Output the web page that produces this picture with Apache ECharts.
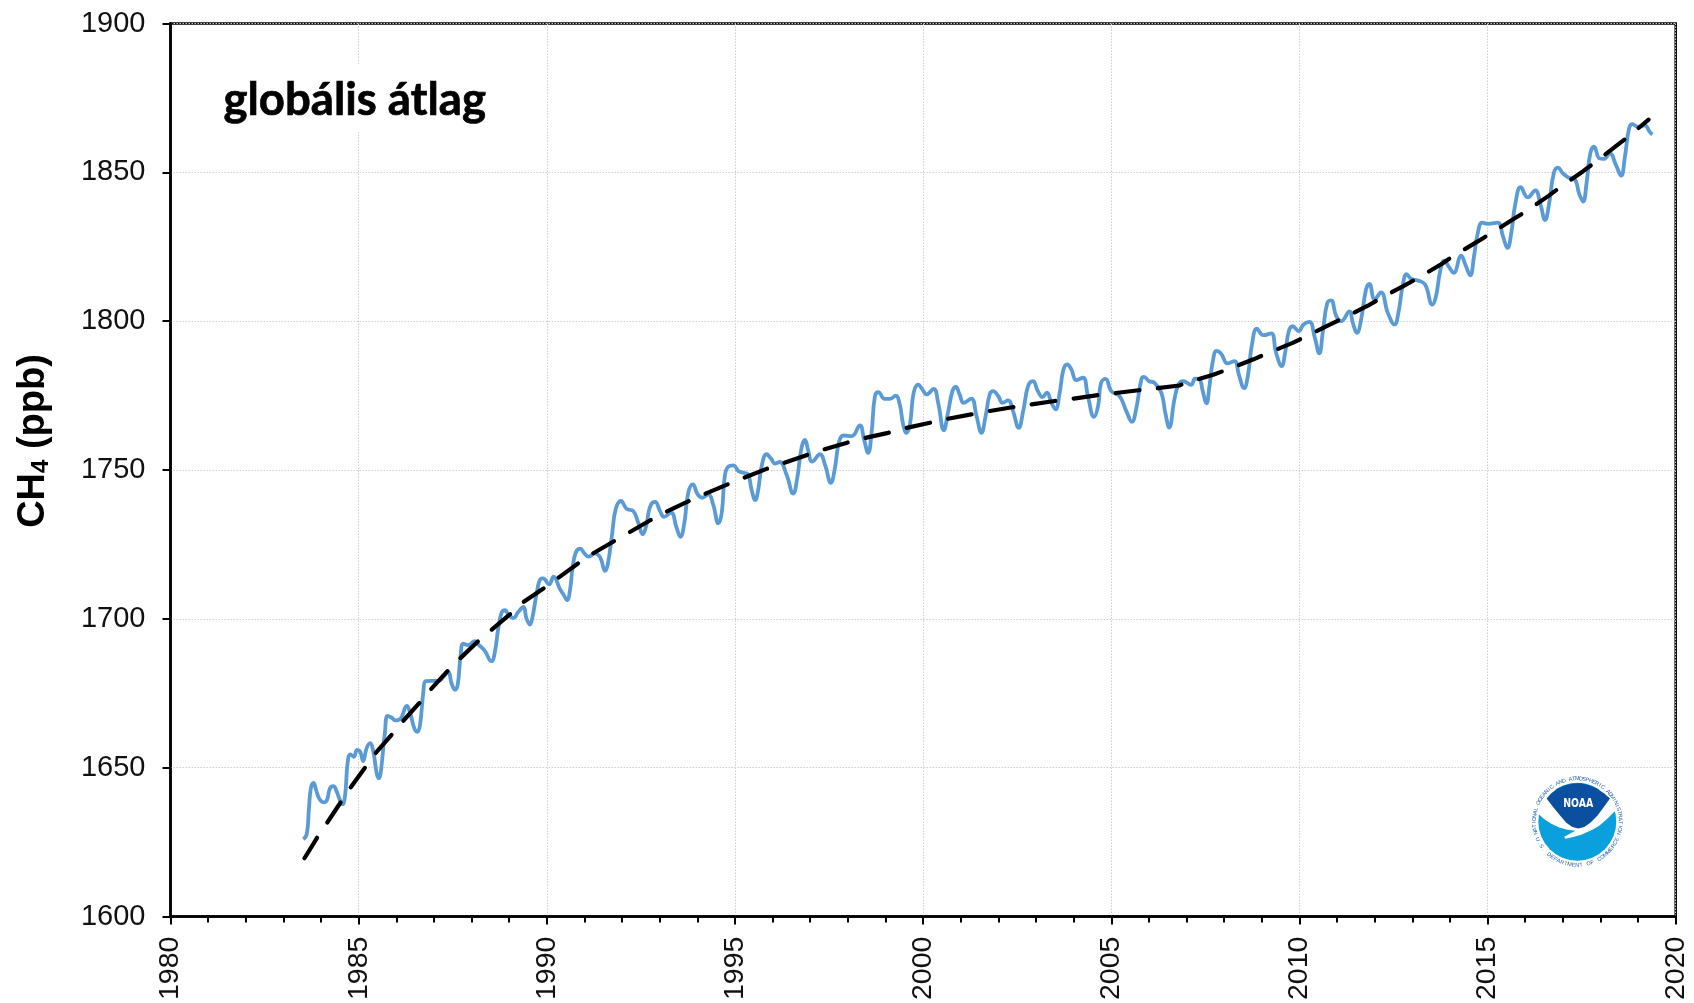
<!DOCTYPE html>
<html>
<head>
<meta charset="utf-8">
<style>html,body{margin:0;padding:0;background:#fff}#c{width:1694px;height:1003px}</style>
<script src="https://cdn.jsdelivr.net/npm/echarts@6/dist/echarts.min.js"></script>
</head>
<body>
<div id="c"></div>
<script>
const titleText = 'globális átlag';
const ringTop = 'NATIONAL OCEANIC AND ATMOSPHERIC ADMINISTRATION';
const ringBottom = 'U.S. DEPARTMENT OF COMMERCE';
const yTicks = [1600, 1900, 50];
const xTicks = [1980, 2020, 5];

// Globális havi CH4 (ppb): [year, ppb]
const ch4Monthly = [
[1983.53,1626.0],[1983.62,1627.6],[1983.68,1636.4],[1983.73,1643.1],[1983.80,1644.9],[1983.87,1642.5],[1983.95,1639.7],[1984.06,1638.4],[1984.15,1638.9],[1984.24,1643.1],[1984.33,1643.8],[1984.42,1641.9],[1984.50,1639.2],[1984.57,1637.7],[1984.64,1640.8],[1984.71,1652.0],[1984.78,1654.5],[1984.87,1653.7],[1984.96,1656.0],[1985.04,1655.4],[1985.12,1652.2],[1985.21,1656.5],[1985.30,1658.3],[1985.39,1655.4],[1985.48,1648.1],[1985.54,1646.4],[1985.59,1648.7],[1985.70,1662.1],[1985.77,1667.4],[1985.88,1666.8],[1985.98,1665.9],[1986.12,1666.6],[1986.28,1670.8],[1986.36,1668.8],[1986.48,1663.2],[1986.56,1662.1],[1986.63,1664.3],[1986.72,1675.5],[1986.78,1679.1],[1986.94,1679.2],[1987.12,1679.2],[1987.25,1680.5],[1987.38,1682.2],[1987.47,1678.3],[1987.56,1676.2],[1987.63,1677.7],[1987.71,1687.8],[1987.78,1691.7],[1987.91,1691.2],[1988.09,1692.5],[1988.20,1691.2],[1988.34,1689.5],[1988.53,1685.8],[1988.62,1688.9],[1988.71,1696.8],[1988.80,1702.1],[1988.89,1702.9],[1988.99,1701.2],[1989.11,1700.3],[1989.24,1702.3],[1989.38,1704.0],[1989.46,1700.1],[1989.55,1698.1],[1989.62,1700.7],[1989.73,1708.5],
[1989.83,1713.4],[1989.90,1713.6],[1990.06,1711.6],[1990.18,1714.2],[1990.35,1710.0],[1990.44,1708.3],[1990.54,1706.3],[1990.62,1710.0],[1990.68,1716.7],[1990.77,1722.3],[1990.89,1723.6],[1991.00,1722.0],[1991.11,1720.9],[1991.28,1722.0],[1991.42,1720.6],[1991.55,1716.1],[1991.62,1718.3],[1991.73,1727.9],[1991.83,1736.8],[1991.97,1739.6],[1992.12,1737.0],[1992.30,1736.2],[1992.43,1732.3],[1992.55,1728.4],[1992.64,1731.2],[1992.75,1737.9],[1992.88,1739.3],[1993.01,1736.2],[1993.12,1734.3],[1993.30,1735.7],[1993.45,1730.6],[1993.55,1727.6],[1993.65,1731.8],[1993.76,1742.4],[1993.88,1745.2],[1994.01,1741.8],[1994.13,1740.7],[1994.29,1741.8],[1994.42,1738.5],[1994.56,1732.1],[1994.65,1735.7],[1994.73,1748.0],[1994.82,1751.1],[1994.96,1751.6],[1995.09,1749.7],[1995.22,1749.1],[1995.35,1748.5],[1995.44,1743.5],[1995.54,1739.9],[1995.62,1743.5],[1995.71,1751.3],[1995.84,1755.3],[1995.97,1753.6],[1996.06,1752.2],[1996.19,1752.7],
[1996.37,1748.5],[1996.55,1742.1],[1996.65,1746.9],[1996.77,1757.5],[1996.86,1760.1],[1996.95,1756.4],[1997.05,1752.8],[1997.26,1755.3],[1997.39,1751.9],[1997.55,1745.7],[1997.65,1750.2],[1997.77,1759.7],[1997.89,1761.6],[1998.10,1761.4],[1998.32,1765.0],[1998.43,1760.3],[1998.54,1755.8],[1998.63,1762.5],[1998.72,1774.8],[1998.81,1776.2],[1998.98,1773.9],[1999.12,1773.9],[1999.27,1775.0],[1999.38,1772.0],[1999.47,1765.3],[1999.56,1762.5],[1999.65,1765.3],[1999.75,1776.0],[1999.87,1778.7],[1999.98,1777.1],[2000.09,1775.4],[2000.28,1777.3],[2000.40,1772.6],[2000.55,1763.4],[2000.66,1769.2],[2000.78,1776.5],[2000.87,1777.9],[2000.97,1775.4],[2001.08,1772.6],[2001.28,1774.0],[2001.42,1768.1],[2001.55,1762.5],[2001.66,1768.1],[2001.77,1775.4],[2001.86,1776.5],[2002.00,1774.8],[2002.11,1772.6],[2002.26,1773.4],[2002.39,1769.8],[2002.54,1764.2],[2002.66,1769.8],[2002.79,1778.2],[2002.92,1779.9],[2003.05,1776.5],[2003.17,1774.5],[2003.29,1776.0],[2003.41,1772.6],[2003.52,1770.4],[2003.63,1776.0],[2003.73,1783.8],[2003.83,1785.5],[2003.94,1783.8],[2004.07,1780.2],[2004.25,1781.0],[2004.38,1774.8],[2004.54,1767.9],[2004.65,1771.5],[2004.73,1779.3],[2004.85,1780.6],[2005.00,1776.5],[2005.22,1774.8],[2005.40,1769.8],[2005.55,1766.2],[2005.66,1770.4],[2005.80,1780.4],[2005.87,1781.3],[2006.00,1779.9],[2006.15,1779.3],[2006.33,1776.0],
[2006.44,1769.0],[2006.54,1764.3],[2006.68,1773.8],[2006.79,1778.8],[2006.91,1779.9],[2007.12,1778.6],[2007.23,1780.7],[2007.34,1780.5],[2007.43,1776.6],[2007.53,1772.4],[2007.61,1778.2],[2007.70,1786.6],[2007.80,1790.0],[2007.92,1789.1],[2008.09,1785.8],[2008.27,1786.6],[2008.40,1781.6],[2008.53,1777.5],[2008.63,1781.6],[2008.74,1792.2],[2008.87,1797.5],[2009.04,1795.3],[2009.25,1795.9],[2009.38,1789.4],[2009.53,1784.9],[2009.62,1789.4],[2009.72,1796.7],[2009.82,1798.3],[2009.98,1796.7],[2010.11,1798.9],[2010.27,1799.8],[2010.40,1795.0],[2010.53,1789.2],[2010.62,1796.1],[2010.74,1806.1],[2010.84,1807.0],[2010.98,1801.7],[2011.11,1800.0],[2011.33,1803.3],[2011.42,1799.4],[2011.53,1796.1],[2011.64,1800.6],[2011.77,1810.6],[2011.86,1812.5],[2012.00,1807.3],[2012.17,1809.7],[2012.35,1802.8],[2012.53,1798.9],[2012.63,1802.8],[2012.75,1812.3],[2012.85,1815.8],[2012.97,1814.2],[2013.15,1813.7],[2013.34,1812.3],[2013.53,1805.6],[2013.63,1808.4],[2013.74,1816.7],[2013.85,1820.3],[2013.99,1817.9],[2014.10,1816.2],[2014.30,1822.0],[2014.41,1819.0],[2014.54,1815.4],[2014.64,1821.8],[2014.74,1829.6],[2014.86,1833.1],[2015.01,1832.7],[2015.27,1833.1],[2015.41,1828.5],[2015.53,1824.6],[2015.63,1829.6],[2015.74,1839.6],[2015.88,1845.0],[2016.07,1841.6],[2016.27,1843.9],[2016.40,1839.6],[2016.53,1834.0],[2016.63,1839.0],[2016.76,1849.7],[2016.87,1851.6],[2017.00,1849.7],[2017.14,1848.3],[2017.33,1847.4],[2017.43,1843.0],[2017.54,1840.2],[2017.63,1846.3],[2017.73,1856.4],[2017.83,1858.6],[2017.97,1854.7],[2018.09,1854.5],[2018.25,1856.4],[2018.41,1852.5],[2018.55,1848.9],[2018.65,1855.2],[2018.76,1864.7],[2018.85,1866.2],[2019.00,1865.3],[2019.18,1865.8],[2019.31,1863.6],[2019.38,1862.7]
];

// Trend (dashed): [year, ppb]
const ch4Trend = [
[1983.56,1619.6],[1983.93,1627.2],[1984.15,1631.3],[1984.55,1638.9],[1984.77,1643.1],[1985.21,1650.7],[1985.43,1654.6],[1985.92,1661.7],[1986.16,1665.4],[1986.66,1672.4],[1986.90,1676.1],[1987.40,1683.0],[1987.67,1686.4],[1988.20,1692.8],[1988.50,1696.0],[1989.07,1702.1],[1989.35,1705.4],[1989.91,1710.2],[1990.25,1713.3],[1990.84,1718.7],[1991.15,1721.4],[1991.80,1726.2],[1992.14,1728.7],[1992.79,1733.4],[1993.12,1735.7],[1993.78,1739.6],[1994.13,1741.6],[1994.81,1745.2],[1995.18,1747.1],[1995.84,1750.4],[1996.19,1751.9],[1996.90,1755.0],[1997.30,1756.7],[1997.98,1759.2],[1998.36,1760.5],[1999.07,1762.5],[1999.47,1763.9],[2000.18,1765.9],[2000.56,1767.0],[2001.28,1768.7],[2001.66,1769.6],[2002.37,1771.1],[2002.74,1771.8],[2003.50,1773.2],[2003.88,1773.8],[2004.60,1775.1],[2005.00,1775.7],[2005.73,1776.8],[2006.11,1777.3],[2006.81,1778.4],[2007.00,1779.4],[2007.71,1782.0],[2008.09,1783.8],[2008.78,1787.2],[2009.13,1789.1],[2009.82,1792.7],[2010.16,1794.8],[2010.82,1798.9],[2011.17,1801.1],[2011.82,1805.2],[2012.17,1807.8],[2012.81,1812.1],[2013.15,1814.5],[2013.79,1819.3],[2014.10,1822.0],[2014.74,1826.8],[2015.05,1829.2],[2015.69,1834.3],[2016.01,1836.8],[2016.62,1842.1],[2016.93,1845.0],[2017.54,1850.4],[2017.85,1853.3],[2018.42,1858.9],[2018.73,1861.9],[2019.28,1867.7]
];

const chart = echarts.init(document.getElementById('c'), null, {renderer: 'canvas'});
const FONT = '"Liberation Sans", Arial, sans-serif';

// NOAA emblem, drawn with simple shapes
const logoWhite = [[-41,-32],[-39,-8],[-33,-2.5],[-26,2],[-18,5.8],[-10,8],[-2,9],[-13,15],[-12,17],[-4,15.4],[4,13],[15,8],[22,4],[30,-3],[39,-12],[41,-32]];
const logoDark = [[-30.7,-23.3],[-26,-28.5],[-20,-33],[-12,-36.5],[-4,-38.3],[4,-38.4],[12,-36.5],[20,-33],[27,-28.3],[32.7,-23.3],[26,-14],[20,-6],[13,1],[7,5.3],[1,6.7],[-5,5.3],[-11,1],[-17,-6],[-24,-14.5]];
const logoChildren = [
  {type:'circle', shape:{cx:0,cy:0,r:39}, style:{fill:'#0A9FDD'}},
  {type:'polygon', shape:{points:logoWhite}, style:{fill:'#fff'}},
  {type:'polygon', shape:{points:logoDark}, style:{fill:'#0B4FA0'}},
  {type:'text', x:1, y:-18, scaleX:0.72, style:{text:'NOAA', font:'bold 13px "DejaVu Sans", sans-serif', fill:'#fff', align:'center', verticalAlign:'middle'}}
];
const deg = Math.PI / 180;
function ringChars(str, from, to, r, bottom){
  const n = str.length;
  for (let i = 0; i < n; i++){
    const a = (from + (to - from) * i / (n - 1)) * deg;
    logoChildren.push({type:'text',
      x: r * Math.sin(a),
      y: bottom ? r * Math.cos(a) : -r * Math.cos(a),
      rotation: bottom ? a : -a,
      style:{text:str[i], font:'5.5px ' + FONT, fill:'#1F5FA8', align:'center', verticalAlign:'middle'}});
  }
}
ringChars(ringTop, -105, 105, 43, false);
ringChars(ringBottom, -66, 66, 43.5, true);

chart.setOption({
  animation:false,
  backgroundColor:'#fff',
  grid:{left:170.5, right:18.3, top:23.5, bottom:85, show:true, borderColor:'#000', borderWidth:2.5, containLabel:false},
  xAxis:{
    type:'value', min:xTicks[0], max:xTicks[1], interval:xTicks[2],
    axisLine:{show:true, onZero:false, lineStyle:{color:'#000', width:2.5}},
    axisTick:{show:true, length:8, lineStyle:{color:'#000', width:2}},
    minorTick:{show:true, splitNumber:5, length:6, lineStyle:{color:'#000', width:2}},
    axisLabel:{rotate:90, margin:20, color:'#111', fontFamily:FONT, fontSize:28.5, formatter:v=>String(v), hideOverlap:false, showMinLabel:true, showMaxLabel:true},
    splitLine:{show:true, lineStyle:{color:'#cfcfcf', width:1, type:[1.5,1.5]}},
    minorSplitLine:{show:false}
  },
  yAxis:{
    type:'value', min:yTicks[0], max:yTicks[1], interval:yTicks[2],
    axisLine:{show:true, lineStyle:{color:'#000', width:2.5}},
    axisTick:{show:true, length:8, lineStyle:{color:'#000', width:2}},
    axisLabel:{margin:25, color:'#111', fontFamily:FONT, fontSize:29, padding:[3,0,0,0], formatter:v=>String(v), showMinLabel:true, showMaxLabel:true},
    splitLine:{show:true, lineStyle:{color:'#cfcfcf', width:1, type:[1.5,1.5]}}
  },
  series:[
    {type:'line', name:'havi', data:ch4Monthly, showSymbol:false, smooth:0.45, lineStyle:{color:'#5B9BD5', width:3.8}, z:3, clip:false},
    {type:'line', name:'trend', data:ch4Trend, showSymbol:false, smooth:false, lineStyle:{color:'#000', width:4.2, type:[24,18.4], cap:'round'}, z:4, clip:false}
  ],
  graphic:[
    {type:'rect', z:5, shape:{x:222, y:64, width:268, height:68}, style:{fill:'#fff'}},
    {type:'text', z:6, x:223.5, y:100, style:{text:titleText, font:'bold 45.5px Lato, "Open Sans", sans-serif', fill:'#000', stroke:'#000', lineWidth:0.7, align:'left', verticalAlign:'middle'}},
    {type:'text', z:6, x:32, y:441, rotation:Math.PI/2,
      style:{text:'{a|CH}{b|4}{a| (ppb)}', align:'center', verticalAlign:'middle',
        rich:{a:{fontFamily:FONT, fontWeight:'bold', fontSize:38, fill:'#000', lineHeight:42, verticalAlign:'bottom'},
              b:{fontFamily:FONT, fontWeight:'bold', fontSize:24, fill:'#000', lineHeight:34, verticalAlign:'bottom'}}}},
    {type:'group', z:6, x:1577.3, y:821.7, children:logoChildren}
  ]
});
</script>
</body>
</html>
